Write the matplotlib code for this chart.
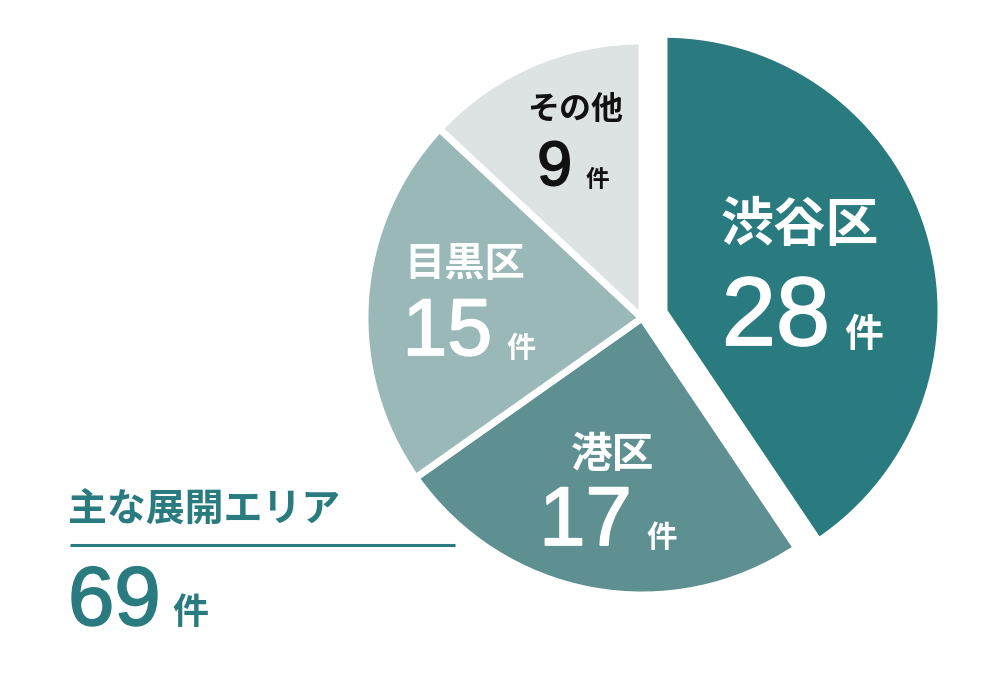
import matplotlib
matplotlib.use("Agg")
import matplotlib.pyplot as plt
import matplotlib.patheffects as pe

# data
areas = ["渋谷区", "港区", "目黒区", "その他"]
counts = [28, 17, 15, 9]
total = 69
title = "主な展開エリア"
unit = "件"

colors = ["#2a7b80", "#5e9091", "#9ab8b8", "#dde2e2"]
text_colors = ["white", "white", "white", "#111111"]

JP = ["Noto Sans CJK JP", "DejaVu Sans"]
NUM = ["Liberation Sans", "DejaVu Sans"]
TEAL = "#2a7b80"

fig = plt.figure(figsize=(10, 6.84), dpi=100)
ax = fig.add_axes([0, 0, 1, 1])

# pie in pixel coords, y axis flipped below -> startangle -90 / counterclock draws clockwise from top
# (explode is in data units here, i.e. pixels)
cx, cy, R = 642, 318, 277
ax.pie(counts, colors=colors, startangle=-90, counterclock=True,
       center=(cx, cy), radius=R, explode=[23, 0, 0, 0],
       wedgeprops=dict(edgecolor="white", linewidth=5))
ax.set_xlim(0, 1000)
ax.set_ylim(684, 0)
ax.set_aspect("auto")
ax.axis("off")


def thick(c, w=1.3):
    return [pe.withStroke(linewidth=w, foreground=c)]


# label positions: (name xy, number right edge, number baseline, sizes)
label_pos = [
    dict(name=(800, 225), nx=830, ny=345, fs_name=38, fs_num=70, fs_unit=28),
    dict(name=(612, 455), nx=632, ny=545, fs_name=30, fs_num=60, fs_unit=22),
    dict(name=(465, 265), nx=492, ny=355, fs_name=29, fs_num=58, fs_unit=21),
    dict(name=(575, 110), nx=572, ny=185, fs_name=23, fs_num=45, fs_unit=17),
]
for area, n, tc, p in zip(areas, counts, text_colors, label_pos):
    ax.text(p["name"][0], p["name"][1], area, family=JP, weight="bold",
            fontsize=p["fs_name"], color=tc, ha="center", va="center")
    ax.text(p["nx"], p["ny"], str(n), family=NUM, fontsize=p["fs_num"],
            color=tc, ha="right", va="baseline", path_effects=thick(tc))
    ax.text(p["nx"] + 14, p["ny"] + 2, unit, family=JP, weight="bold",
            fontsize=p["fs_unit"], color=tc, ha="left", va="baseline")

# total block on the left
ax.text(68, 510, title, family=JP, weight="bold", fontsize=28,
        color=TEAL, ha="left", va="center")
ax.plot([70, 455], [545, 545], color=TEAL, linewidth=2.2, solid_capstyle="butt")
ax.text(68, 625, str(total), family=NUM, fontsize=60, color=TEAL,
        ha="left", va="baseline", path_effects=thick(TEAL))
ax.text(172, 624, unit, family=JP, weight="bold", fontsize=26,
        color=TEAL, ha="left", va="baseline")

fig.savefig("out.png", dpi=100)
